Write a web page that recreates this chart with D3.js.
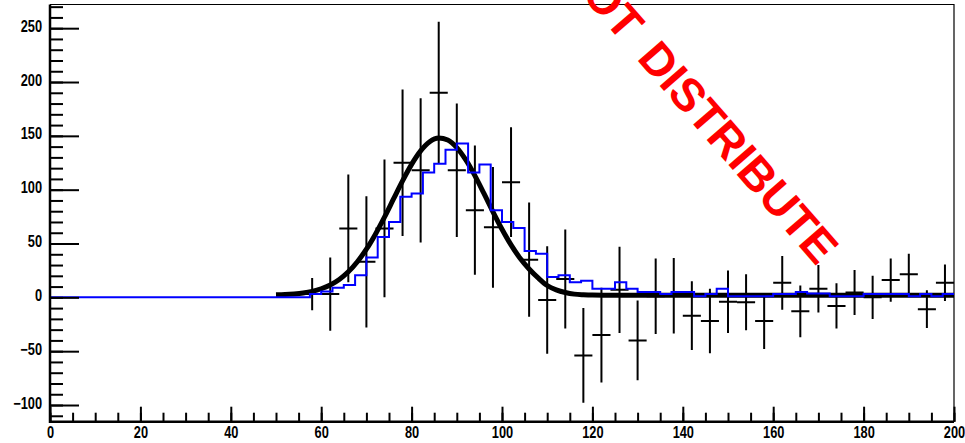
<!DOCTYPE html>
<html>
<head>
<meta charset="utf-8">
<script src="https://cdn.jsdelivr.net/npm/d3@7/dist/d3.min.js"></script>
<style>
	body { margin: 0; background: #fff; }
	svg { display: block; }
	.lbl { font-family: 'Liberation Sans', Arial, sans-serif; font-weight: bold; font-size: 16px; fill: #000; }
	.stamp { font-family: 'Liberation Sans', Arial, sans-serif; font-weight: bold; fill: #ff0000; }
</style>
</head>
<body>
<svg id="chart" width="965" height="443"></svg>
<script>
// measured points: bin centre, content, error (bins are 4 wide)
const dataX = [58, 62, 66, 70, 74, 78, 82, 86, 90, 94, 98, 102, 106, 110, 114, 118, 122, 126,
	130, 134, 138, 142, 146, 150, 154, 158, 162, 166, 170, 174, 178, 182, 186, 190, 194, 198];
const dataY = [3, 3, 64, 33, 64, 125, 118, 190, 118, 81, 65, 107, 35, -2.5, 17, -54, -35, 7,
	-40, 1, 1.5, -17, -22, -4, -4.5, -22, 13.5, -13, 8, -8, 4.5, 0, 16, 21.5, -11, 13.5];
const dataErr = [15, 34, 50, 61, 64, 68, 67, 66, 62, 60, 56, 51, 53, 50, 46, 44, 44, 40,
	37, 35, 35, 32, 30, 29, 26, 26, 25, 24, 22, 21, 21, 20, 20, 19, 17.5, 17];
const dataBinW = 4;

// blue template histogram, 80 bins of 2.5 starting at 0
const histStart = 0, histBinW = 2.5;
const histY = [
	0, 0, 0, 0, 0, 0, 0, 0, 0, 0,
	0, 0, 0, 0, 0, 0, 0, 0, 0, 0,
	0, 0, 0, 3, 5.5, 9, 11.5, 20.5, 37, 56,
	70, 93.5, 96.5, 116, 124, 137, 143, 116, 123.5, 81,
	70, 64.5, 43, 40.5, 19, 20.5, 14, 15.5, 8, 8,
	14, 8, 5, 5, 3, 5, 5, 1, 3, 8,
	1, 1, 1, 1, 3, 3, 5, 3.5, 3.5, 1,
	1, 1, 3, 3, 3, 3, 1, 3, 1, 3
];

const fitX = [50, 52, 54, 56, 58, 60, 62, 64, 66, 68, 70, 72, 74, 76, 78, 80, 82, 84, 86, 88,
	90, 92, 94, 96, 98, 100, 102, 104, 106, 108, 110, 112, 114, 116, 118, 120, 124, 130, 200];
const fitY = [2.3, 2.6, 3.2, 4.1, 5.6, 8, 11.5, 16.6, 23.7, 33.1, 44.7, 58.7, 74.5, 91.4, 108.2, 123.5, 136, 144.5, 147.9, 146.1,
	139.1, 127.6, 113, 96.5, 79.5, 63.3, 48.7, 36.3, 26.3, 18, 11, 7, 4.5, 3, 2.4, 2.1, 2, 2, 2];

const xTicks = [0, 20, 40, 60, 80, 100, 120, 140, 160, 180, 200];
const yTicks = [-100, -50, 0, 50, 100, 150, 200, 250];

const frame = {x1: 50, x2: 954, y1: 4.5, y2: 421.7};

const svg = d3.select('#chart');
svg.append('rect').attr('width', 965).attr('height', 443).attr('fill', '#fff');

const x = d3.scaleLinear().domain([0, 200]).range([frame.x1, frame.x2]);
const y = d3.scaleLinear().domain([-115.5, 272]).range([frame.y2, frame.y1]);

// thin top / right frame
svg.append('path')
	.attr('d', `M${frame.x1},${frame.y1}H${frame.x2}V${frame.y2}`)
	.attr('fill', 'none')
	.attr('stroke', '#000')
	.attr('stroke-width', 1.2);

// fit
const fitLine = d3.line()
	.x((d, i) => x(fitX[i]))
	.y(d => y(d))
	.curve(d3.curveMonotoneX);

svg.append('path')
	.datum(fitY)
	.attr('class', 'fit')
	.attr('d', fitLine)
	.attr('fill', 'none')
	.attr('stroke', '#000')
	.attr('stroke-width', 5);

// data crosses
const gPts = svg.append('g').attr('class', 'g_points');
gPts.selectAll('.pt')
	.data(dataX).enter()
	.append('path')
	.attr('class', 'pt')
	.attr('d', (d, i) =>
		'M' + x(d - dataBinW/2) + ',' + y(dataY[i]) +
		'H' + x(d + dataBinW/2) +
		'M' + x(d) + ',' + y(dataY[i] + dataErr[i]) +
		'V' + y(dataY[i] - dataErr[i])
	)
	.attr('fill', 'none')
	.attr('stroke', '#000')
	.attr('stroke-width', 2);

// blue histogram as steps
const histPts = [];
histY.forEach((v, i) => {
	const lo = histStart + i*histBinW;
	histPts.push([lo, v]);
	histPts.push([lo + histBinW, v]);
});

svg.append('path')
	.datum(histPts)
	.attr('class', 'hist')
	.attr('d', d3.line().x(d => x(d[0])).y(d => y(d[1])))
	.attr('fill', 'none')
	.attr('stroke', '#0000ff')
	.attr('stroke-width', 2);

// axes: ticks inside the frame
const xMinor = d3.range(0, 201, 5);
const yMinor = d3.range(-110, 271, 10);

svg.append('g')
	.attr('transform', 'translate(0,' + frame.y2 + ')')
	.call(d3.axisBottom(x).tickValues(xMinor).tickSize(-9).tickFormat(''))
	.call(g => g.select('.domain').remove())
	.selectAll('line').attr('stroke-width', 2);

svg.append('g')
	.attr('transform', 'translate(0,' + frame.y2 + ')')
	.call(d3.axisBottom(x).tickValues(xTicks).tickSize(-15).tickFormat(d3.format('d')))
	.call(g => g.select('.domain').remove())
	.call(g => g.selectAll('line').attr('stroke-width', 2))
	.call(g => g.selectAll('text')
		.attr('class', 'lbl')
		.attr('y', 0)
		.attr('dy', 0)
		.attr('transform', 'translate(0,16.5) scale(0.8,1)'));

svg.append('g')
	.attr('transform', 'translate(' + frame.x1 + ',0)')
	.call(d3.axisLeft(y).tickValues(yMinor).tickSize(-13).tickFormat(''))
	.call(g => g.select('.domain').remove())
	.selectAll('line').attr('stroke-width', 2);

svg.append('g')
	.attr('transform', 'translate(' + frame.x1 + ',0)')
	.call(d3.axisLeft(y).tickValues(yTicks).tickSize(-29).tickFormat(d3.format('d')))
	.call(g => g.select('.domain').remove())
	.call(g => g.selectAll('line').attr('stroke-width', 2))
	.call(g => g.selectAll('text')
		.attr('class', 'lbl')
		.attr('x', 0)
		.attr('dy', 0)
		.attr('transform', 'translate(-8,3) scale(0.8,1)'));

// heavy left and bottom axis lines
svg.append('path')
	.attr('d', `M${frame.x1},${frame.y1}V${frame.y2}H${frame.x2}`)
	.attr('fill', 'none')
	.attr('stroke', '#000')
	.attr('stroke-width', 2.5);

// stamp
svg.append('text')
	.attr('class', 'stamp')
	.attr('text-anchor', 'end')
	.attr('font-size', 46)
	.attr('word-spacing', 8)
	.attr('transform', 'translate(817,267) rotate(49)')
	.text('DO NOT DISTRIBUTE');
</script>
</body>
</html>
